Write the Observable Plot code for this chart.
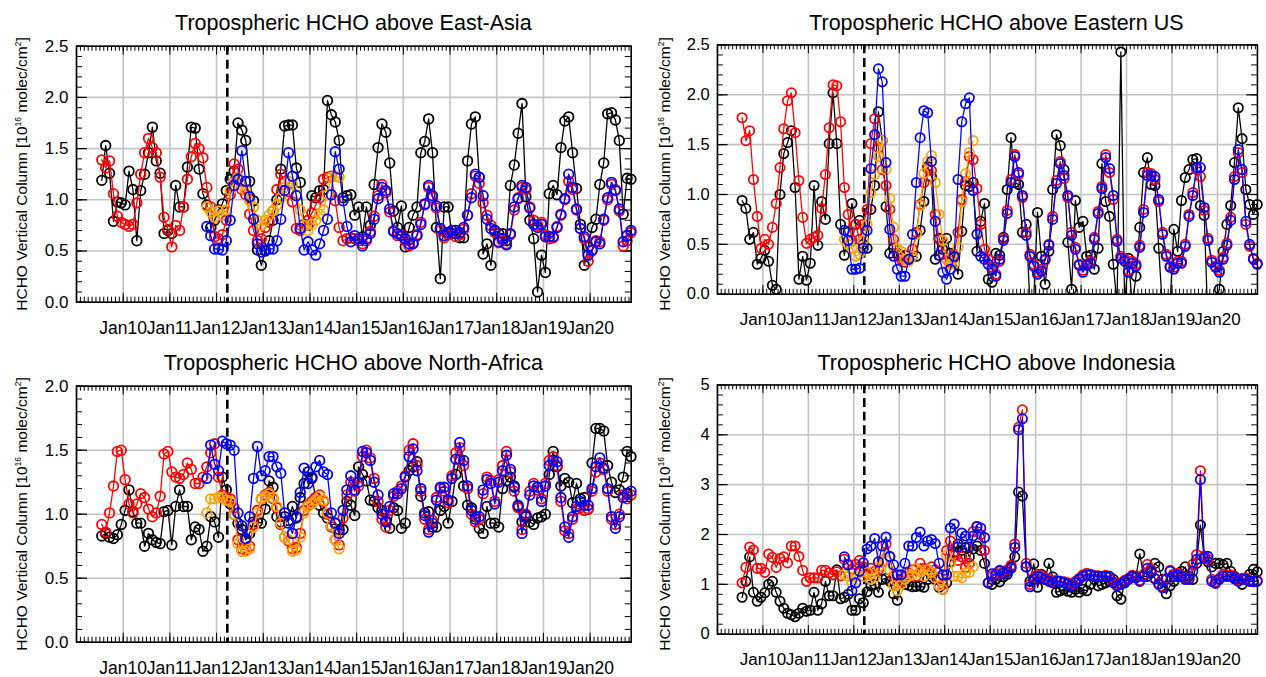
<!DOCTYPE html>
<html><head><meta charset="utf-8">
<script src="https://cdn.jsdelivr.net/npm/d3@7"></script>
<script src="https://cdn.jsdelivr.net/npm/@observablehq/plot@0.6"></script>
<style>
html,body{margin:0;padding:0;background:#fff;overflow:hidden;width:1266px;height:677px;}
body{position:relative;font-family:"Liberation Sans",Arial,Helvetica,sans-serif;color:#000;}
.panel{position:absolute;}
.title{position:absolute;font-size:21.5px;white-space:nowrap;transform:translate(-50%,-50%);}
.ylab{position:absolute;font-size:15.5px;white-space:nowrap;transform:translate(-50%,-50%) rotate(-90deg);}
.ylab sup{font-size:8.5px;}
</style></head><body>
<script>
// ---------- axis / labels ----------
const YEARS = [2010,2011,2012,2013,2014,2015,2016,2017,2018,2019,2020];
const YEAR_LABELS = ["Jan10","Jan11","Jan12","Jan13","Jan14","Jan15","Jan16","Jan17","Jan18","Jan19","Jan20"];
const DASH_DATE = 2012.23;
const START_ALL = [2009, 7];   // first month of black & red series
const START_NEW = [2011, 10];  // first month of blue & orange series
const TITLES = ["Tropospheric HCHO above East-Asia","Tropospheric HCHO above Eastern US","Tropospheric HCHO above North-Africa","Tropospheric HCHO above Indonesia"];

// ---------- East-Asia ----------
const ea_black = [1.19,1.53,1.26,0.79,0.98,0.97,
0.95,1.28,1.10,0.60,1.09,1.25,1.46,1.71,1.38,1.26,0.67,0.70,
0.67,1.14,0.93,0.93,1.32,1.71,1.70,1.30,1.06,0.95,0.73,0.80,
0.90,0.96,1.09,1.20,1.28,1.75,1.68,1.58,1.18,0.99,0.51,0.36,
0.50,0.60,0.80,1.00,1.30,1.72,1.73,1.73,1.31,1.17,0.76,0.75,
1.04,1.02,1.09,1.10,1.97,1.83,1.76,1.58,1.02,1.04,1.05,0.85,
0.93,0.64,0.93,0.75,1.15,1.51,1.74,1.66,1.36,0.89,0.73,0.94,
0.54,0.73,0.85,0.93,1.46,1.57,1.79,1.46,0.73,0.23,0.93,0.93,
0.67,0.70,0.63,0.63,1.38,1.74,1.81,1.22,0.47,0.57,0.36,0.70,
0.67,0.67,0.60,1.14,1.34,1.65,1.94,1.03,0.80,0.62,0.10,0.46,
0.29,1.06,1.14,1.05,1.51,1.77,1.81,1.46,1.11,0.76,0.36,0.54,
0.73,0.81,1.15,1.36,1.84,1.85,1.78,1.58,0.86,1.21,1.20];
const ea_red = [1.39,1.31,1.38,1.06,0.84,0.78,
0.76,0.74,0.76,0.97,1.25,1.46,1.60,1.51,1.46,1.22,0.83,0.71,
0.54,0.75,0.70,0.93,1.20,1.42,1.55,1.50,1.41,1.12,0.93,0.64,
0.62,0.66,0.80,1.05,1.35,1.30,1.10,1.05,0.86,0.70,0.60,0.62,
0.73,0.78,0.89,1.10,1.25,1.18,1.08,0.98,0.72,0.70,0.75,0.80,
0.87,0.95,1.02,1.20,1.22,1.23,0.99,0.73,0.60,0.62,0.63,0.62,
0.60,0.57,0.60,0.69,0.84,1.04,1.15,1.07,0.88,0.70,0.65,0.66,
0.60,0.55,0.58,0.66,0.78,0.95,1.12,1.02,0.92,0.70,0.63,0.66,
0.70,0.64,0.66,0.71,0.85,1.06,1.23,1.16,0.97,0.85,0.75,0.68,
0.58,0.60,0.57,0.66,0.90,1.02,1.12,1.10,0.93,0.80,0.75,0.78,
0.66,0.62,0.63,0.74,0.86,1.00,1.18,1.10,0.90,0.72,0.62,0.40,
0.50,0.60,0.59,0.80,1.00,1.15,1.10,0.89,0.55,0.60,0.68];
const ea_blue = [0.74,0.65,0.52,
0.52,0.51,0.60,0.80,1.14,1.20,1.48,1.18,1.03,0.81,0.57,0.49,
0.51,0.52,0.52,0.60,0.81,1.09,1.46,1.23,1.04,0.72,0.51,0.59,
0.51,0.46,0.57,0.70,0.81,1.05,1.47,1.30,0.99,0.74,0.59,0.65,
0.62,0.55,0.62,0.67,0.81,1.01,1.12,1.09,0.91,0.69,0.67,0.65,
0.62,0.57,0.57,0.65,0.76,0.96,1.14,1.04,0.94,0.72,0.65,0.68,
0.70,0.67,0.68,0.73,0.85,1.02,1.25,1.22,1.04,0.81,0.72,0.70,
0.59,0.62,0.56,0.67,0.93,1.01,1.14,1.12,0.92,0.76,0.73,0.76,
0.64,0.64,0.64,0.73,0.85,1.01,1.25,1.12,0.91,0.72,0.64,0.46,
0.51,0.59,0.57,0.81,1.02,1.17,1.09,0.91,0.59,0.65,0.70];
const ea_orange = [0.93,0.88,0.83,0.89,0.85,0.90,1.09,1.17,1.22,1.14,1.09,0.99,0.93,0.80,0.75,0.80,0.85,0.89,0.95,1.02,1.12,1.18,1.15,1.05,0.90,0.75,0.70,0.76,0.80,0.86,0.90,1.05,1.22,1.23,1.22];

// ---------- Eastern US ----------
const us_black = [0.94,0.86,0.55,0.62,0.30,0.36,
0.44,0.33,0.09,0.05,1.00,1.41,1.52,1.64,1.07,0.15,0.38,0.14,
0.31,1.09,0.49,0.93,0.75,1.51,2.02,1.51,0.70,0.39,0.62,0.91,
0.70,0.74,0.50,0.46,0.85,1.09,1.83,1.54,0.88,0.41,0.46,0.41,
0.38,0.39,0.35,0.38,0.38,0.64,0.93,1.28,1.18,0.35,0.56,0.45,
0.56,0.41,0.37,0.20,0.63,1.09,1.08,1.12,0.43,0.73,0.91,0.15,
0.12,0.41,0.39,0.57,1.05,1.57,1.12,1.10,0.62,0.70,-0.10,-0.05,
0.82,0.38,0.10,0.43,1.05,1.60,1.49,1.25,0.52,0.05,0.94,0.67,
0.73,0.38,0.39,0.25,0.46,1.31,0.93,0.78,0.30,-0.10,2.43,-0.10,
0.36,-0.10,0.18,0.67,1.22,1.37,1.10,1.09,0.46,-0.15,-0.20,-0.10,
0.65,0.43,0.94,1.17,1.25,1.35,1.36,0.89,0.79,-0.30,-0.20,-0.10,
0.05,0.43,0.70,0.89,1.32,1.87,1.56,1.05,0.90,0.80,0.90];
const us_red = [1.77,1.54,1.64,1.15,0.78,0.46,
0.55,0.50,0.67,0.91,1.27,1.66,1.94,2.02,1.62,1.14,0.77,0.51,
0.55,0.57,0.59,0.86,1.20,1.67,2.10,2.09,1.73,1.07,0.80,0.54,
0.70,0.55,0.70,0.85,1.51,1.76,1.47,1.25,1.09,0.85,0.55,0.40,
0.35,0.32,0.35,0.45,0.62,0.90,1.12,1.26,1.24,0.80,0.55,0.40,
0.35,0.32,0.40,0.62,0.95,1.13,1.38,1.35,1.06,0.70,0.45,0.35,
0.27,0.20,0.33,0.56,0.84,1.15,1.40,1.20,0.97,0.62,0.40,0.30,
0.22,0.25,0.34,0.50,0.78,1.14,1.33,1.16,0.97,0.62,0.47,0.30,
0.24,0.30,0.33,0.57,0.83,1.08,1.40,1.22,0.95,0.55,0.38,0.35,
0.24,0.33,0.30,0.49,0.85,1.22,1.21,1.15,0.93,0.62,0.40,0.28,
0.27,0.33,0.33,0.50,0.80,1.02,1.25,1.18,0.84,0.56,0.34,0.28,
0.24,0.37,0.51,0.77,1.18,1.42,1.22,0.70,0.48,0.36,0.31];
const us_blue = [0.64,0.54,0.25,
0.25,0.26,0.46,0.64,1.26,1.60,2.26,2.13,1.32,0.65,0.38,0.25,
0.18,0.18,0.35,0.60,1.12,1.57,1.84,1.82,1.33,0.73,0.39,0.22,
0.15,0.25,0.38,1.15,1.73,1.91,1.97,1.04,0.60,0.38,0.35,0.30,
0.25,0.18,0.35,0.54,0.81,1.12,1.38,1.22,0.99,0.59,0.38,0.28,
0.20,0.23,0.35,0.49,0.75,1.11,1.31,1.19,0.99,0.59,0.45,0.29,
0.22,0.29,0.31,0.55,0.81,1.06,1.37,1.26,0.99,0.53,0.36,0.33,
0.22,0.31,0.28,0.47,0.82,1.19,1.19,1.18,0.95,0.60,0.38,0.27,
0.25,0.31,0.31,0.48,0.78,0.99,1.27,1.27,0.87,0.54,0.32,0.27,
0.22,0.35,0.49,0.74,1.15,1.45,1.25,0.73,0.50,0.35,0.30];
const us_orange = [0.55,0.50,0.46,0.38,0.40,0.54,0.70,1.02,1.20,1.38,1.54,1.25,0.96,0.67,0.46,0.43,0.35,0.33,0.38,0.60,0.89,1.21,1.33,1.39,1.12,0.80,0.54,0.35,0.30,0.31,0.47,0.93,1.21,1.42,1.54];

// ---------- North-Africa ----------
const na_black = [0.83,0.85,0.82,0.81,0.84,0.92,
1.03,1.19,1.02,0.93,0.93,0.75,0.85,0.80,0.78,0.77,1.02,1.03,
0.76,1.06,1.19,1.06,1.06,0.80,0.90,0.88,0.71,0.75,0.98,0.94,
0.82,1.29,1.19,1.08,1.00,0.93,0.88,0.80,0.85,0.94,0.94,0.93,
1.04,1.26,1.21,0.98,0.94,0.98,0.95,1.06,0.97,1.13,1.24,1.33,
1.28,1.13,1.07,1.01,0.97,0.91,0.93,0.88,0.88,1.10,1.07,0.99,
1.37,1.31,1.26,1.11,1.10,1.05,1.03,0.95,0.89,1.05,1.03,0.89,
0.93,1.34,1.37,1.41,1.14,1.01,1.02,0.90,0.90,1.03,1.06,0.93,
1.10,1.31,1.43,1.22,1.07,1.05,0.98,0.89,0.85,1.06,0.93,0.93,
0.90,1.20,1.26,1.29,1.22,1.06,0.94,0.98,0.94,0.92,0.97,0.98,
1.00,1.31,1.49,1.37,1.22,1.28,1.25,1.09,1.24,1.12,1.13,1.04,
1.40,1.67,1.67,1.65,1.38,1.25,1.17,1.19,1.29,1.49,1.45];
const na_red = [0.92,0.86,1.01,1.22,1.49,1.50,
1.27,1.08,1.01,1.08,1.16,1.13,1.04,0.98,1.01,1.14,1.47,1.49,
1.33,1.29,1.28,1.31,1.40,1.35,1.24,1.24,1.29,1.37,1.48,1.55,
1.29,1.15,1.13,1.12,1.05,0.80,0.73,0.72,0.75,0.92,1.03,1.12,
1.15,1.17,1.12,1.05,0.92,0.82,0.79,0.73,0.74,0.85,1.03,1.07,
1.10,1.13,1.15,1.10,1.00,0.90,0.80,0.76,0.97,1.15,1.25,1.18,
1.22,1.45,1.50,1.44,1.28,1.10,0.96,0.90,1.03,1.14,1.18,1.22,
1.30,1.50,1.55,1.38,1.18,0.96,0.88,0.95,1.13,1.20,1.18,1.09,
1.30,1.48,1.52,1.38,1.20,1.00,0.94,0.96,1.16,1.29,1.26,1.10,
1.27,1.38,1.49,1.33,1.18,1.05,0.88,1.00,1.18,1.24,1.19,1.12,
1.24,1.42,1.45,1.38,1.10,0.87,0.85,0.96,1.04,1.05,1.03,1.04,
1.18,1.33,1.40,1.35,1.18,0.96,0.92,1.00,1.15,1.12,1.15];
const na_blue = [1.28,1.54,1.39,
1.34,1.57,1.55,1.54,1.50,1.01,0.91,0.81,0.98,1.28,1.53,1.30,
1.34,1.45,1.45,1.37,1.32,1.01,0.93,0.85,0.98,1.17,1.36,1.24,
1.29,1.37,1.42,1.33,1.31,1.01,0.93,0.85,1.03,1.19,1.30,1.19,
1.25,1.49,1.48,1.42,1.25,1.15,1.00,0.94,1.06,1.16,1.16,1.20,
1.29,1.45,1.51,1.34,1.20,0.99,0.86,0.93,1.11,1.21,1.21,1.11,
1.28,1.43,1.56,1.42,1.22,1.03,0.96,0.98,1.19,1.27,1.24,1.08,
1.25,1.34,1.46,1.35,1.21,1.07,0.85,0.99,1.15,1.22,1.21,1.10,
1.22,1.38,1.42,1.41,1.13,0.90,0.82,0.98,1.06,1.10,1.07,1.07,
1.20,1.37,1.44,1.36,1.20,0.98,0.89,0.98,1.13,1.16,1.18];
const na_orange = [1.01,1.12,1.12,1.13,1.13,1.11,1.10,1.00,0.77,0.71,0.71,0.73,0.90,1.01,1.12,1.14,1.16,1.13,1.06,0.93,0.82,0.80,0.71,0.72,0.82,1.01,1.06,1.08,1.11,1.14,1.11,1.01,0.91,0.80,0.73];

// ---------- Indonesia ----------
const id_black = [0.74,1.06,1.55,0.84,0.66,0.74,
0.83,1.00,1.06,0.84,0.66,0.52,0.42,0.39,0.35,0.42,0.52,0.46,
0.48,0.84,0.48,0.61,1.06,0.77,0.77,1.29,0.71,0.74,0.80,0.48,
0.48,0.71,0.63,0.85,0.97,1.00,0.84,1.10,1.12,1.06,0.81,0.68,
1.08,1.00,0.98,0.95,0.96,0.97,0.94,1.10,1.15,1.10,0.94,0.90,
1.03,1.45,1.65,1.81,1.68,1.74,1.55,1.71,1.77,1.68,1.42,1.03,
1.00,1.10,1.05,1.15,1.20,1.35,1.55,2.85,2.77,1.35,1.06,1.41,
0.94,1.20,1.10,1.42,1.15,0.84,0.87,0.90,0.86,0.84,0.90,0.84,
0.90,0.87,1.00,1.10,0.97,1.00,1.03,1.06,1.10,0.77,0.70,1.03,
1.10,1.16,1.16,1.61,1.16,1.16,1.23,1.42,1.35,1.10,0.81,0.97,
1.06,1.16,1.26,1.35,1.16,1.10,1.42,2.19,1.55,1.45,1.35,1.42,
1.42,1.39,1.42,1.26,1.16,1.10,1.00,1.10,1.20,1.30,1.25];
const id_red = [1.03,1.34,1.75,1.69,1.32,1.32,
1.24,1.61,1.54,1.34,1.52,1.55,1.43,1.77,1.77,1.56,1.28,1.06,
1.13,1.13,1.13,1.28,1.28,1.23,1.19,1.25,1.17,1.50,1.40,1.30,
1.40,1.48,1.35,1.20,1.32,1.26,1.29,1.45,1.81,1.55,1.16,1.03,
1.06,1.16,1.23,1.29,1.16,1.42,1.32,1.29,1.35,1.29,1.13,1.00,
1.68,1.87,1.58,1.48,1.55,1.34,1.42,2.06,2.16,2.00,1.68,1.03,
1.16,1.22,1.26,1.25,1.29,1.38,1.81,4.15,4.50,1.42,1.00,1.13,
1.20,1.16,1.13,1.10,1.06,1.08,1.06,1.05,1.03,1.00,1.06,1.12,
1.19,1.22,1.20,1.18,1.17,1.16,1.18,1.14,1.05,1.00,1.03,1.08,
1.12,1.18,1.15,1.08,1.20,1.40,1.30,1.12,1.02,0.95,1.12,1.28,
1.20,1.22,1.18,1.13,1.12,1.40,1.60,3.28,1.57,1.50,1.10,1.05,
1.12,1.20,1.18,1.19,1.13,1.08,1.12,1.13,1.08,1.05,1.08];
const id_blue = [1.55,1.39,0.87,
1.03,1.26,1.43,1.71,1.77,1.92,1.45,1.77,1.95,1.56,1.39,1.19,
1.19,1.42,1.77,1.77,1.94,2.05,1.77,1.87,1.90,1.82,1.42,1.19,
1.19,2.13,2.21,1.75,2.03,1.97,1.75,1.97,2.16,2.13,1.94,1.03,
1.21,1.19,1.28,1.22,1.25,1.32,1.74,4.10,4.32,1.35,0.95,1.10,
1.16,1.13,1.10,1.06,1.03,1.06,1.06,1.03,1.00,0.97,1.03,1.10,
1.16,1.19,1.19,1.16,1.16,1.15,1.16,1.16,1.03,0.97,1.00,1.06,
1.10,1.16,1.13,1.06,1.16,1.32,1.26,1.11,1.00,0.93,1.10,1.26,
1.16,1.19,1.16,1.10,1.10,1.26,1.50,3.10,1.52,1.56,1.06,1.02,
1.10,1.16,1.16,1.16,1.11,1.06,1.10,1.10,1.06,1.06,1.06];
const id_orange = [1.20,1.16,1.03,1.16,1.26,1.16,1.24,1.10,1.13,1.35,1.61,1.48,1.29,0.97,0.87,1.00,1.10,1.16,1.19,1.32,1.26,1.16,1.29,1.24,1.13,0.97,0.90,1.58,1.43,1.16,1.16,1.13,1.23,1.24,1.35];

// ---------- drawing ----------
const W = 640, H = 340, ML = 76, MR = 9.3, MT = 45.7, MB = 38.3;
const IW = W - ML - MR, IH = H - MT - MB;
const X_DOMAIN = [2009, 2020.88];
const COLORS = {black:"#000000", red:"#ff0000", orange:"#ffa500", blue:"#0000ff"};
const GRID = "#c4c4c4";

function toRows(values, start, key){
  return values.map((v,i)=>({t: start[0] + (start[1]-1+i+0.5)/12, v, key}));
}

function makePanel(cfg){
  const [y0,y1] = cfg.yDomain;
  const yMajor = d3.range(y0, y1 + 1e-9, cfg.yStep);
  const yMinor = d3.range(y0, y1 + 1e-9, cfg.yMinor);
  const yearGrid = d3.range(2009, 2021);
  const months = d3.range(0, 144).map(i => 2009 + i/12).filter(t => t <= X_DOMAIN[1]);
  const seriesDefs = [
    ["black", cfg.black, START_ALL],
    ["red", cfg.red, START_ALL],
    ["orange", cfg.orange, START_NEW],
    ["blue", cfg.blue, START_NEW]
  ];
  const marks = [
    Plot.gridX(yearGrid, {stroke: GRID, strokeOpacity: 1, strokeWidth: 1.6}),
    Plot.gridY(yMajor, {stroke: GRID, strokeOpacity: 1, strokeWidth: 1.6}),
    Plot.tickX(months, {x: d=>d, insetTop: IH - 5, stroke:"#000", strokeWidth:1}),
    Plot.tickX(months, {x: d=>d, insetBottom: IH - 5, stroke:"#000", strokeWidth:1}),
    Plot.tickX(yearGrid, {x: d=>d, insetTop: IH - 9, stroke:"#000", strokeWidth:1}),
    Plot.tickX(yearGrid, {x: d=>d, insetBottom: IH - 9, stroke:"#000", strokeWidth:1}),
    Plot.tickY(yMinor, {y: d=>d, insetRight: IW - 6, stroke:"#000", strokeWidth:1}),
    Plot.tickY(yMinor, {y: d=>d, insetLeft: IW - 6, stroke:"#000", strokeWidth:1}),
    Plot.tickY(yMajor, {y: d=>d, insetRight: IW - 11, stroke:"#000", strokeWidth:1.2}),
    Plot.tickY(yMajor, {y: d=>d, insetLeft: IW - 11, stroke:"#000", strokeWidth:1.2}),
    Plot.ruleX([DASH_DATE], {stroke:"#000", strokeWidth:2.6, strokeDasharray:"9,5"})
  ];
  for (const [key, vals, start] of seriesDefs){
    const rows = toRows(vals, start, key);
    marks.push(Plot.line(rows, {x:"t", y:"v", stroke: COLORS[key], strokeWidth: 1.3, clip: true}));
    marks.push(Plot.dot(rows.filter(d => d.v >= y0 - 0.02 && d.v <= y1 + 0.02),
      {x:"t", y:"v", r: 4.8, stroke: COLORS[key], strokeWidth: 1.8, fill: "none"}));
  }
  marks.push(Plot.frame({stroke:"#000", strokeWidth:1.6}));
  marks.push(Plot.axisX(YEARS, {tickSize:0, tickPadding: 19, tickFormat: (d) => YEAR_LABELS[YEARS.indexOf(d)], fontSize: 17.5, label: null}));
  marks.push(Plot.axisY(yMajor, {tickSize:0, tickPadding: 8, tickFormat: cfg.yFmt, fontSize: 17, label: null}));
  return Plot.plot({
    width: W, height: H,
    marginLeft: ML, marginRight: MR, marginTop: MT, marginBottom: MB,
    x: {type:"linear", domain: X_DOMAIN},
    y: {type:"linear", domain: cfg.yDomain},
    style: {fontFamily: '"Liberation Sans", Arial, Helvetica, sans-serif', fontSize: "17px", background: "#fff", color:"#000", overflow:"visible"},
    marks
  });
}

const fmt1 = d3.format(".1f");
const fmt0 = d3.format("d");
const panels = [
  {title: TITLES[0], left: 0, top: 0, yDomain:[0,2.5], yStep:0.5, yMinor:0.1, yFmt: fmt1, black: ea_black, red: ea_red, blue: ea_blue, orange: ea_orange},
  {title: TITLES[1], left: 643, top: 0, yDomain:[0,2.5], yStep:0.5, yMinor:0.1, yFmt: fmt1, black: us_black, red: us_red, blue: us_blue, orange: us_orange},
  {title: TITLES[2], left: 0, top: 340, yDomain:[0,2.0], yStep:0.5, yMinor:0.1, yFmt: fmt1, black: na_black, red: na_red, blue: na_blue, orange: na_orange},
  {title: TITLES[3], left: 643, top: 340, yDomain:[0,5], yStep:1, yMinor:0.2, yFmt: fmt0, black: id_black, red: id_red, blue: id_blue, orange: id_orange}
];

for (const p of panels){
  const div = document.createElement("div");
  div.className = "panel";
  div.style.left = p.left + "px";
  div.style.top = p.top + "px";
  div.appendChild(makePanel(p));
  document.body.appendChild(div);

  const t = document.createElement("div");
  t.className = "title";
  t.textContent = p.title;
  t.style.left = (p.left + ML + IW/2) + "px";
  t.style.top = (p.top + 23) + "px";
  document.body.appendChild(t);

  const yl = document.createElement("div");
  yl.className = "ylab";
  yl.innerHTML = "HCHO Vertical Column [10<sup>16</sup> molec/cm<sup>2</sup>]";
  yl.style.left = (p.left + 22) + "px";
  yl.style.top = (p.top + MT + IH/2) + "px";
  document.body.appendChild(yl);
}
</script>
</body></html>
